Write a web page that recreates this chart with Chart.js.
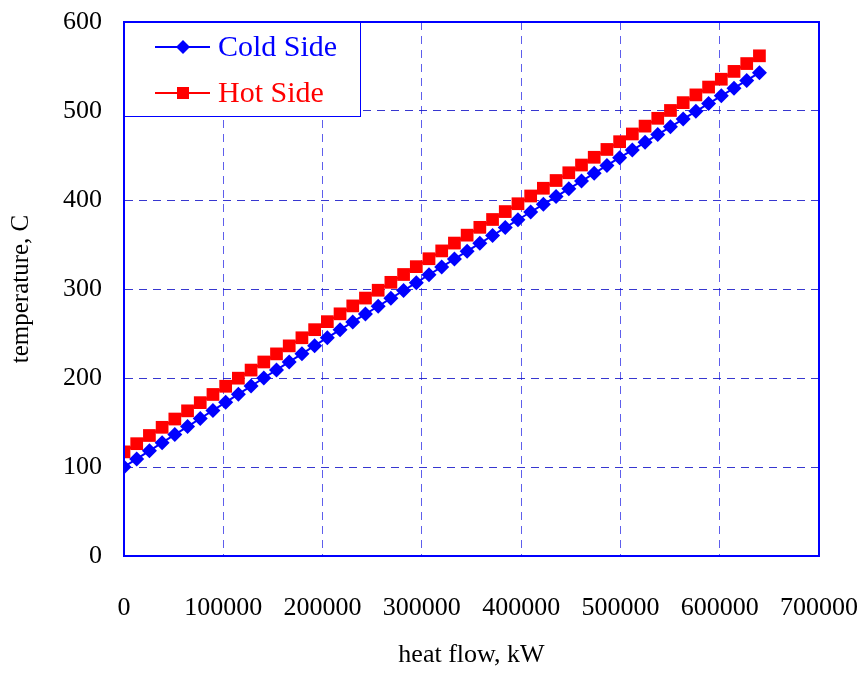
<!DOCTYPE html>
<html>
<head>
<meta charset="utf-8">
<script src="https://cdn.jsdelivr.net/npm/chart.js@4"></script>
<style>
  html, body { margin: 0; padding: 0; background: #fff; }
  #wrap { width: 864px; height: 677px; }
</style>
</head>
<body>
<div id="wrap"><canvas id="myChart"></canvas></div>
<script>
// heat flow, kW
const heatFlow = [
    0, 12800, 25600, 38400, 51200, 64000, 76800, 89600, 102400, 115200,
    128000, 140800, 153600, 166400, 179200, 192000, 204800, 217600, 230400, 243200,
    256000, 268800, 281600, 294400, 307200, 320000, 332800, 345600, 358400, 371200,
    384000, 396800, 409600, 422400, 435200, 448000, 460800, 473600, 486400, 499200,
    512000, 524800, 537600, 550400, 563200, 576000, 588800, 601600, 614400, 627200,
    640000
];
// temperatures, C
const coldSide = [
    100, 109.1, 118.2, 127.3, 136.4, 145.4, 154.5, 163.6, 172.7, 181.8,
    190.9, 200.0, 209.1, 218.1, 227.2, 236.3, 245.3, 254.1, 263.0, 271.8,
    280.6, 289.5, 298.3, 307.1, 316.0, 324.8, 333.6, 342.5, 351.3, 360.1,
    369.0, 377.8, 386.5, 395.2, 403.9, 412.6, 421.3, 430.0, 438.8, 447.5,
    456.1, 464.8, 473.5, 482.2, 490.9, 499.6, 508.3, 517.0, 525.7, 534.4,
    543
];
const hotSide = [
    117, 126.2, 135.4, 144.6, 153.9, 163.1, 172.3, 181.5, 190.7, 199.8,
    208.9, 218.0, 227.1, 236.1, 245.2, 254.3, 263.3, 272.1, 281.0, 289.8,
    298.6, 307.5, 316.3, 325.1, 334.0, 342.8, 351.6, 360.5, 369.3, 378.1,
    387.0, 395.8, 404.5, 413.2, 421.9, 430.6, 439.3, 448.0, 456.8, 465.5,
    474.2, 483.0, 491.8, 500.6, 509.4, 518.1, 526.9, 535.7, 544.5, 553.3,
    562
];
const seriesNames = ['Cold Side', 'Hot Side'];
const seriesColors = ['#0000FF', '#FF0000'];

const serif = '"Liberation Serif", "Times New Roman", serif';

// full blue frame round the plot + legend box inside the top-left corner
const framePlugin = {
    id: 'frame',
    afterDraw(chart) {
        const ctx = chart.ctx;
        const a = chart.chartArea;
        ctx.save();
        ctx.strokeStyle = '#0000FF';
        ctx.lineWidth = 2;
        ctx.strokeRect(a.left, a.top, a.right - a.left, a.bottom - a.top);

        // legend
        const bx = a.left, by = a.top, bw = 236, bh = 94;
        ctx.fillStyle = '#fff';
        ctx.fillRect(bx, by, bw, bh);
        ctx.lineWidth = 1;
        ctx.strokeRect(bx + 0.5, by + 0.5, bw, bh);
        ctx.font = '30px ' + serif;
        ctx.textBaseline = 'middle';
        chart.data.datasets.forEach((ds, i) => {
            const y = by + 25 + i * 46;
            ctx.strokeStyle = ds.borderColor;
            ctx.fillStyle = ds.borderColor;
            ctx.lineWidth = 2;
            ctx.beginPath();
            ctx.moveTo(bx + 31, y);
            ctx.lineTo(bx + 86, y);
            ctx.stroke();
            const mx = bx + 59;
            ctx.beginPath();
            if (i === 0) {
                ctx.moveTo(mx, y - 7); ctx.lineTo(mx + 7, y);
                ctx.lineTo(mx, y + 7); ctx.lineTo(mx - 7, y);
                ctx.closePath();
            } else {
                ctx.rect(mx - 6, y - 6, 12, 12);
            }
            ctx.fill();
            ctx.fillText(ds.label, bx + 94, y + 1);
        });
        ctx.restore();
    }
};

function noOverflow(scale) {
    scale.paddingTop = 0;
    scale.paddingBottom = 0;
    scale.paddingLeft = 0;
    scale.paddingRight = 0;
}

const ctx = document.getElementById('myChart').getContext('2d');
const myChart = new Chart(ctx, {
    type: 'line',
    data: {
        datasets: [
            {
                label: seriesNames[0],
                data: heatFlow.map((x, i) => ({ x: x, y: coldSide[i] })),
                borderColor: seriesColors[0],
                backgroundColor: seriesColors[0],
                borderWidth: 2,
                pointStyle: 'rectRot',
                pointRadius: 7.5,
                pointBorderWidth: 0
            },
            {
                label: seriesNames[1],
                data: heatFlow.map((x, i) => ({ x: x, y: hotSide[i] })),
                borderColor: seriesColors[1],
                backgroundColor: seriesColors[1],
                borderWidth: 2,
                pointStyle: 'rect',
                pointRadius: 9,
                pointBorderWidth: 0
            }
        ]
    },
    options: {
        responsive: true,
        maintainAspectRatio: false,
        animation: false,
        layout: {
            padding: { top: 22, right: 45, bottom: 6, left: 0 }
        },
        plugins: {
            legend: { display: false },
            tooltip: { enabled: false }
        },
        scales: {
            x: {
                type: 'linear',
                min: 0,
                max: 700000,
                ticks: {
                    stepSize: 100000,
                    padding: 37,
                    color: '#000',
                    font: { family: serif, size: 26 },
                    maxRotation: 0,
                    callback: v => String(v)
                },
                grid: {
                    color: 'rgba(40,40,230,0.75)',
                    lineWidth: 1,
                    drawTicks: false
                },
                border: { display: true, color: '#0000FF', width: 2, dash: [8, 6] },
                title: {
                    display: true,
                    text: 'heat flow, kW',
                    color: '#000',
                    font: { family: serif, size: 26 },
                    padding: { top: 20, bottom: 0 }
                },
                afterFit(scale) { scale.height = 115; noOverflow(scale); }
            },
            y: {
                min: 0,
                max: 600,
                ticks: {
                    stepSize: 100,
                    padding: 22,
                    color: '#000',
                    font: { family: serif, size: 26 }
                },
                grid: {
                    color: 'rgba(20,20,200,0.85)',
                    lineWidth: 1,
                    drawTicks: false
                },
                border: { display: true, color: '#0000FF', width: 2, dash: [8, 6] },
                title: {
                    display: true,
                    text: 'temperature, C',
                    color: '#000',
                    font: { family: serif, size: 25 },
                    padding: { top: 6, bottom: 10 }
                },
                afterFit(scale) { scale.width = 124; noOverflow(scale); }
            }
        }
    },
    plugins: [framePlugin]
});
</script>
</body>
</html>
